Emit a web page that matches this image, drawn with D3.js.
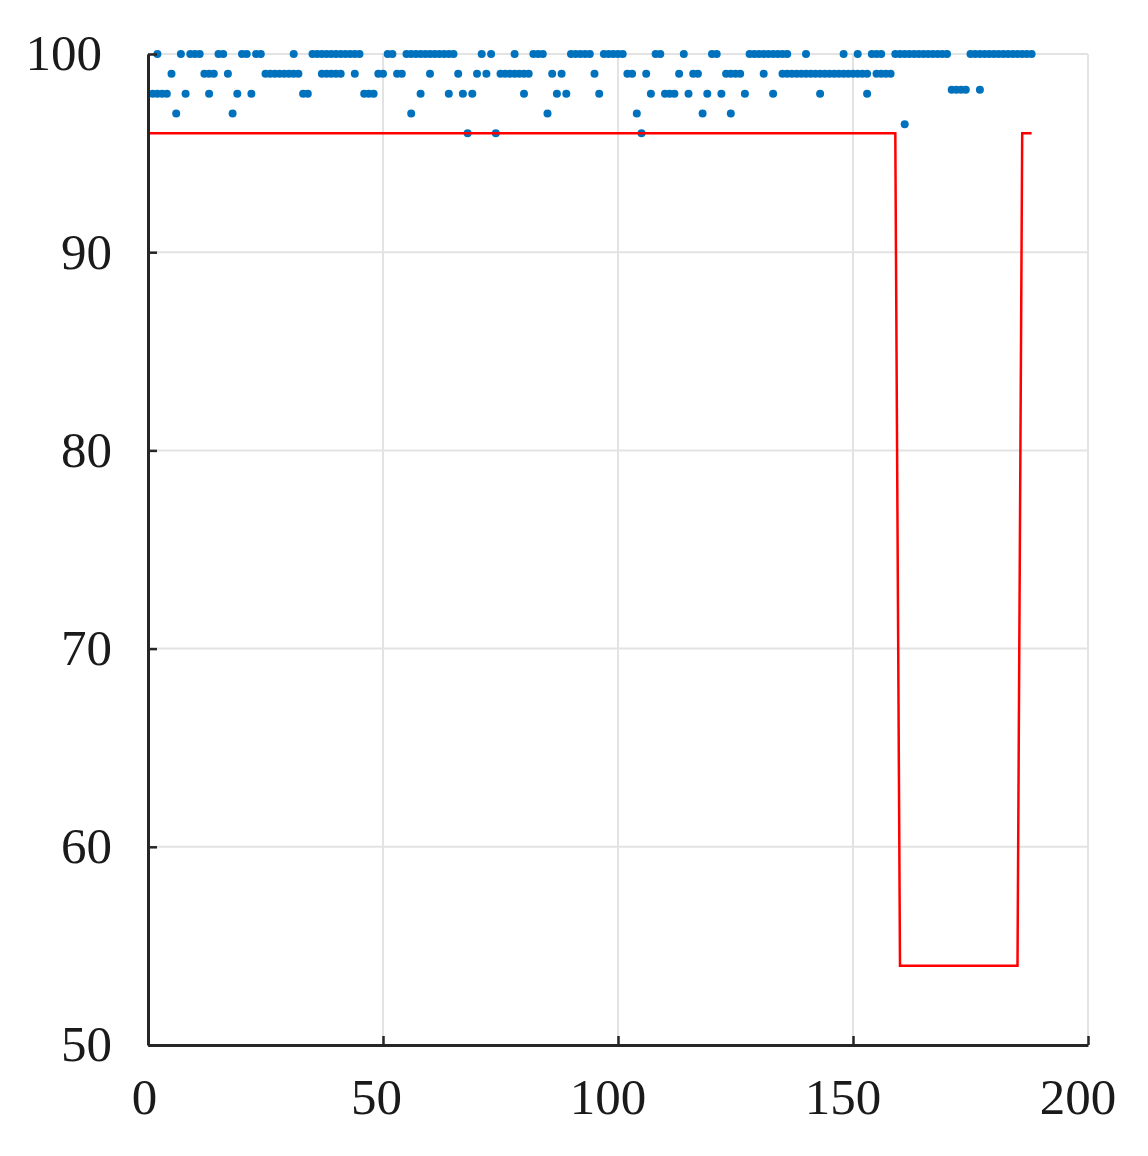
<!DOCTYPE html>
<html>
<head>
<meta charset="utf-8">
<script src="https://cdn.jsdelivr.net/npm/d3@7"></script>
<style>
  html, body { margin: 0; padding: 0; background: #fff; }
  svg { display: block; }
  .tick text { font-family: "Liberation Serif", "Times New Roman", serif; fill: #1a1a1a; }
</style>
</head>
<body>
<svg id="chart" width="1148" height="1156"></svg>
<script>
// ---- Data ----
const xTicks = [0, 50, 100, 150, 200];
const yTicks = [50, 60, 70, 80, 90, 100];

// blue dots grouped by level
const dots100 = [2,7,9,10,11,15,16,20,21,23,24,31,35,36,37,38,39,40,41,42,43,44,45,51,52,55,56,57,58,59,60,61,62,63,64,65,71,73,78,82,83,84,90,91,92,93,94,97,98,99,100,101,108,109,114,120,121,128,129,130,131,132,133,134,135,136,140,148,151,154,155,156,159,160,161,162,163,164,165,166,167,168,169,170,175,176,177,178,179,180,181,182,183,184,185,186,187,188];
const dots99 = [5,12,13,14,17,25,26,27,28,29,30,31,32,37,38,39,40,41,44,49,50,53,54,60,66,70,72,75,76,77,78,79,80,81,86,88,95,102,103,106,113,116,117,123,124,125,126,131,135,136,137,138,139,140,141,142,143,144,145,146,147,148,149,150,151,152,153,155,156,157,158];
const dots98 = [1,2,3,4,8,13,19,22,33,34,46,47,48,58,64,67,69,80,87,89,96,107,110,111,112,115,119,122,127,133,143,153];
const dots98_2 = [171,172,173,174,177];
const dots97 = [6,18,56,85,104,118,124];
const dots96 = [68,74,105];
const dots96_45 = [161];

// red step line
const redX = [0, 159, 160, 185, 186, 188];
const redY = [96, 96, 54, 54, 96, 96];

// ---- Build points ----
const points = [].concat(
  dots100.map(v => [v, 100]),
  dots99.map(v => [v, 99]),
  dots98.map(v => [v, 98]),
  dots98_2.map(v => [v, 98.2]),
  dots97.map(v => [v, 97]),
  dots96.map(v => [v, 96]),
  dots96_45.map(v => [v, 96.45])
);
const redLine = redX.map((v, i) => [v, redY[i]]);

// ---- Layout ----
const svg = d3.select("#chart");
const plotL = 148, plotT = 54, plotR = 1088, plotB = 1045;

const x = d3.scaleLinear().domain([0, 200]).range([plotL, plotR]);
const y = d3.scaleLinear().domain([50, 100]).range([plotB, plotT]);

// grid
const grid = svg.append("g").attr("stroke", "#e3e3e3").attr("stroke-width", 2);
grid.selectAll("line.vx").data(xTicks).join("line").attr("class", "vx")
  .attr("x1", d => x(d)).attr("x2", d => x(d))
  .attr("y1", plotT).attr("y2", plotB);
grid.selectAll("line.hy").data(yTicks).join("line").attr("class", "hy")
  .attr("x1", plotL).attr("x2", plotR)
  .attr("y1", d => y(d)).attr("y2", d => y(d));

// dots
svg.append("g").attr("fill", "#0072BD")
  .selectAll("circle").data(points).join("circle")
  .attr("cx", d => x(d[0])).attr("cy", d => y(d[1])).attr("r", 4);

// red line
svg.append("path").datum(redLine)
  .attr("fill", "none").attr("stroke", "#ff0000").attr("stroke-width", 2.5)
  .attr("d", d3.line().x(d => x(d[0])).y(d => y(d[1])));

// axes
const xAxis = d3.axisBottom(x).tickValues(xTicks).tickSizeInner(-9).tickSizeOuter(0).tickPadding(33);
const yAxis = d3.axisLeft(y).tickValues(yTicks).tickSizeInner(-9).tickSizeOuter(0).tickPadding(36);

const gx = svg.append("g").attr("transform", `translate(0,${plotB})`).call(xAxis);
const gy = svg.append("g").attr("transform", `translate(${plotL},0)`).call(yAxis);

[gx, gy].forEach(g => {
  g.select(".domain").attr("stroke", "#262626").attr("stroke-width", 3);
  g.selectAll(".tick line").attr("stroke", "#262626").attr("stroke-width", 2.5);
  g.selectAll(".tick text").attr("font-size", 51);
});
// label offsets as in the reference (wider labels sit further left)
gx.selectAll(".tick text").attr("dx", d => String(d).length === 1 ? -4 : (String(d).length === 2 ? -7 : -10.5));
gy.selectAll(".tick text").attr("dx", d => String(d).length === 3 ? -10 : 0).attr("dy", "0.31em");
</script>
</body>
</html>
